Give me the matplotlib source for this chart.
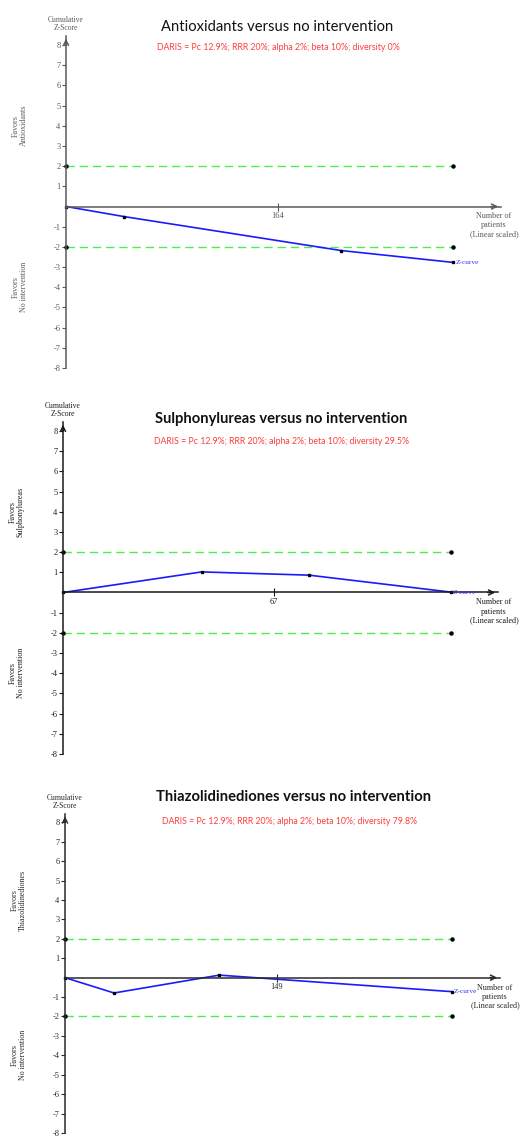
# Trial sequential analysis plots, three panels stacked
import matplotlib.pyplot as plt

titles = ["Antioxidants versus no intervention",
          "Sulphonylureas versus no intervention",
          "Thiazolidinediones versus no intervention"]
diversity = ["0%", "29.5%", "79.8%"]
favors = ["Antioxidants", "Sulphonylureas", "Thiazolidinediones"]
x_tick = [164, 67, 149]
x_end = [337, 138, 306]
z_x = [[0, 45, 213, 300], [0, 44, 78, 123], [0, 34.5, 108.5, 272]]
z_y = [[0, -0.50, -2.18, -2.77], [0, 1.02, 0.86, 0.02], [0, -0.79, 0.13, -0.72]]
bound = 2.0
y_ticks = [8, 7, 6, 5, 4, 3, 2, 1, -1, -2, -3, -4, -5, -6, -7, -8]
x_label_lines = ["Number of", "patients", "(Linear scaled)"]

W, H = 520, 1136
fig = plt.figure(figsize=(W / 100, H / 100), dpi=100)

# pixel layout: left, right, y of +8, y of -8
layout = [(66, 501, 45, 368), (63, 498, 431, 754), (65, 500, 822.3, 1133)]
title_pos = [(277, 27), (281, 419), (294, 797)]
sub_pos = [(278, 47), (281, 442), (290, 822)]
label_x = [494, 494, 495]
bold = ["normal", "bold", "bold"]
axis_col = ["#5a5a5a", "#1a1a1a", "#2a2a2a"]
serif = "Liberation Serif"
ytop = 8.45

for i in range(3):
    l, r, y8, ym8 = layout[i]
    unit = (ym8 - y8) / 16
    top = y8 - (ytop - 8) * unit
    ax = fig.add_axes([l / W, 1 - ym8 / H, (r - l) / W, (ym8 - top) / H])
    ax.set_xlim(0, x_end[i])
    ax.set_ylim(-8, ytop)
    ax.patch.set_alpha(0)
    col = axis_col[i]

    for s in ["top", "right"]:
        ax.spines[s].set_visible(False)
    ax.spines["left"].set_color(col)
    ax.spines["bottom"].set_color(col)
    ax.spines["left"].set_linewidth(1.1)
    ax.spines["bottom"].set_linewidth(1.1)
    ax.spines["bottom"].set_position(("data", 0))

    ax.set_yticks(y_ticks)
    ax.set_yticklabels([str(t) for t in y_ticks], fontfamily=serif, fontsize=6, color=col)
    ax.tick_params(axis="y", direction="out", length=3, width=0.8, color=col, pad=1)
    ax.set_xticks([x_tick[i]])
    ax.set_xticklabels([str(x_tick[i])], fontfamily=serif, fontsize=6, color=col)
    ax.tick_params(axis="x", direction="inout", length=6, width=0.8, color=col, pad=1)

    # axis arrows
    ax.annotate("", xy=(0, ytop), xytext=(0, ytop - 0.6),
                arrowprops=dict(arrowstyle="->", color=col, lw=1.1, mutation_scale=9),
                annotation_clip=False)
    ax.annotate("", xy=(x_end[i], 0), xytext=(x_end[i] * 0.97, 0),
                arrowprops=dict(arrowstyle="->", color=col, lw=1.1, mutation_scale=9),
                annotation_clip=False)

    # monitoring boundaries
    xe = z_x[i][-1]
    for b in [bound, -bound]:
        ax.plot([0, xe], [b, b], color="#4ced4c", lw=1, dashes=(6, 3.5), clip_on=False)
        ax.plot([0, xe], [b, b], ls="none", marker="o", ms=2.2, color="black", clip_on=False)

    # z-curve
    ax.plot(z_x[i], z_y[i], color="#1a1aff", lw=1.2, clip_on=False)
    ax.plot(z_x[i], z_y[i], ls="none", marker="s", ms=1.8, color="black", clip_on=False)
    ax.annotate("Z-curve", xy=(xe, z_y[i][-1]), xytext=(1.5, 0), textcoords="offset points",
                fontfamily=serif, fontsize=5.3, color="#3333ff", va="center", ha="left",
                annotation_clip=False)

    # x-axis caption, one text per line
    y0 = y8 + 8 * unit
    for k, line in enumerate(x_label_lines):
        fig.text(label_x[i] / W, 1 - (y0 + 10 + 9 * k) / H, line,
                 fontfamily=serif, fontsize=5.9, color=col, ha="center", va="center")

    ax.text(0, ytop + 0.2, "Cumulative\nZ-Score", fontfamily=serif, fontsize=5.5,
            color=col, ha="center", va="bottom", linespacing=0.9, clip_on=False)

    fx = -46 / (r - l)
    ax.text(fx, 4, "Favors\n" + favors[i], transform=ax.get_yaxis_transform(),
            fontfamily=serif, fontsize=5.8, color=col, rotation=90,
            ha="center", va="center", linespacing=0.95)
    ax.text(fx, -4, "Favors\nNo intervention", transform=ax.get_yaxis_transform(),
            fontfamily=serif, fontsize=5.8, color=col, rotation=90,
            ha="center", va="center", linespacing=0.95)

    tx, ty = title_pos[i]
    fig.text(tx / W, 1 - ty / H, titles[i], fontfamily="Lato", fontsize=10.6,
             fontweight=bold[i], ha="center", va="center", color="#111111")
    sx, sy = sub_pos[i]
    fig.text(sx / W, 1 - sy / H,
             "DARIS = Pc 12.9%; RRR 20%; alpha 2%; beta 10%; diversity " + diversity[i],
             fontfamily="Lato", fontsize=6.3, ha="center", va="center", color="#ff3c3c")

fig.savefig("out.png", dpi=100)
